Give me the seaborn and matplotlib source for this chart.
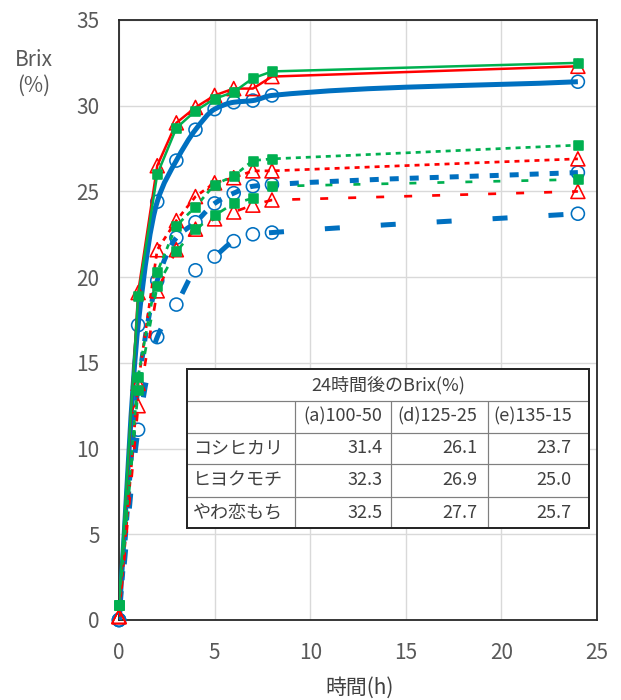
import numpy as np
import pandas as pd
import matplotlib
matplotlib.use("Agg")
import matplotlib.pyplot as plt
from matplotlib.path import Path
from matplotlib.patches import PathPatch, Rectangle
import seaborn as sns

# Sampling times (h)
hours = [0, 1, 2, 3, 4, 5, 6, 7, 8, 24]

# Brix (%) per variety and soaking condition
koshihikari_a = [0.0, 17.2, 24.4, 26.8, 28.6, 29.8, 30.2, 30.3, 30.6, 31.4]
koshihikari_d = [0.0, 13.6, 19.8, 22.3, 23.2, 24.3, 24.9, 25.3, 25.4, 26.1]
koshihikari_e = [0.0, 11.1, 16.5, 18.4, 20.4, 21.2, 22.1, 22.5, 22.6, 23.7]
hiyokumochi_a = [0.2, 19.1, 26.5, 29.0, 29.9, 30.6, 31.0, 31.0, 31.7, 32.3]
hiyokumochi_d = [0.2, 13.8, 21.6, 23.3, 24.7, 25.5, 25.8, 26.2, 26.2, 26.9]
hiyokumochi_e = [0.2, 12.5, 19.2, 21.6, 22.8, 23.4, 23.8, 24.2, 24.5, 25.0]
yawakoi_a = [0.9, 18.9, 26.0, 28.7, 29.7, 30.4, 30.8, 31.6, 32.0, 32.5]
yawakoi_d = [0.9, 14.2, 20.3, 23.0, 24.1, 25.4, 25.9, 26.8, 26.9, 27.7]
yawakoi_e = [0.9, 13.4, 19.5, 21.5, 22.8, 23.6, 24.3, 24.6, 25.3, 25.7]

varieties = ["コシヒカリ", "ヒヨクモチ", "やわ恋もち"]
conditions = ["(a)100-50", "(d)125-25", "(e)135-15"]
table_title = "24時間後のBrix(%)"
x_ticks = [0, 5, 10, 15, 20, 25]
y_ticks = [0, 5, 10, 15, 20, 25, 30, 35]
x_label = "時間(h)"
y_label = "Brix\n(%)"

series = {
    ("コシヒカリ", "(a)100-50"): koshihikari_a,
    ("コシヒカリ", "(d)125-25"): koshihikari_d,
    ("コシヒカリ", "(e)135-15"): koshihikari_e,
    ("ヒヨクモチ", "(a)100-50"): hiyokumochi_a,
    ("ヒヨクモチ", "(d)125-25"): hiyokumochi_d,
    ("ヒヨクモチ", "(e)135-15"): hiyokumochi_e,
    ("やわ恋もち", "(a)100-50"): yawakoi_a,
    ("やわ恋もち", "(d)125-25"): yawakoi_d,
    ("やわ恋もち", "(e)135-15"): yawakoi_e,
}

df = pd.DataFrame(
    [(t, v, var, cond) for (var, cond), vals in series.items() for t, v in zip(hours, vals)],
    columns=["time", "brix", "variety", "condition"],
)

# ---- styling ----
DPI = 100
PT = 72 / DPI          # points per pixel
BLUE, RED, GREEN = "#0070C0", "#FF0000", "#00B050"

variety_style = {
    "コシヒカリ": dict(color=BLUE, marker="o", size=13, filled=False, smooth=True, z=3),
    "ヒヨクモチ": dict(color=RED, marker="^", size=14, filled=False, smooth=False, z=4),
    "やわ恋もち": dict(color=GREEN, marker="s", size=9, filled=True, smooth=False, z=5),
}
# (line width px, dash pattern px)
line_style = {
    ("コシヒカリ", "(a)100-50"): (5.0, None),
    ("コシヒカリ", "(d)125-25"): (5.0, (9, 11)),
    ("コシヒカリ", "(e)135-15"): (5.0, (15, 41)),
    ("ヒヨクモチ", "(a)100-50"): (2.5, None),
    ("ヒヨクモチ", "(d)125-25"): (2.7, (5, 5)),
    ("ヒヨクモチ", "(e)135-15"): (2.7, (8, 20)),
    ("やわ恋もち", "(a)100-50"): (2.5, None),
    ("やわ恋もち", "(d)125-25"): (2.7, (5, 5)),
    ("やわ恋もち", "(e)135-15"): (2.7, (7, 21)),
}

sns.set_theme(style="white")
plt.rcParams["font.family"] = ["Noto Sans CJK JP", "DejaVu Sans"]
plt.rcParams["lines.scale_dashes"] = False
plt.rcParams["lines.solid_capstyle"] = "butt"
plt.rcParams["lines.dash_capstyle"] = "butt"


def linestyle_of(dash):
    if dash is None:
        return "-"
    return (0, (dash[0] * PT, dash[1] * PT))


def smooth_path(x, y):
    """Monotone cubic Bezier path through the points (smoothed line)."""
    x = np.asarray(x, float)
    y = np.asarray(y, float)
    h = np.diff(x)
    d = np.diff(y) / h
    m = np.empty_like(x)
    m[0], m[-1] = d[0], d[-1]
    for i in range(1, len(x) - 1):
        if d[i - 1] * d[i] <= 0:
            m[i] = 0.0
        else:
            w1 = 2 * h[i] + h[i - 1]
            w2 = h[i] + 2 * h[i - 1]
            m[i] = (w1 + w2) / (w1 / d[i - 1] + w2 / d[i])
    verts = [(x[0], y[0])]
    codes = [Path.MOVETO]
    for i in range(len(x) - 1):
        verts += [(x[i] + h[i] / 3, y[i] + m[i] * h[i] / 3),
                  (x[i + 1] - h[i] / 3, y[i + 1] - m[i + 1] * h[i] / 3),
                  (x[i + 1], y[i + 1])]
        codes += [Path.CURVE4] * 3
    return Path(verts, codes)


fig = plt.figure(figsize=(621 / DPI, 700 / DPI), dpi=DPI)
ax = fig.add_axes([119 / 621, 80 / 700, 478 / 621, 600 / 700])

for var in varieties:
    vs = variety_style[var]
    for cond in conditions:
        sub = df[(df["variety"] == var) & (df["condition"] == cond)]
        lw, dash = line_style[(var, cond)]
        if vs["smooth"]:
            patch = PathPatch(smooth_path(sub["time"], sub["brix"]), facecolor="none",
                              edgecolor=vs["color"], linewidth=lw * PT,
                              linestyle=linestyle_of(dash), capstyle="butt",
                              zorder=vs["z"])
            ax.add_patch(patch)
        else:
            sns.lineplot(data=sub, x="time", y="brix", ax=ax, color=vs["color"],
                         linewidth=lw * PT, linestyle=linestyle_of(dash),
                         estimator=None, legend=False, zorder=vs["z"])
        sns.scatterplot(data=sub, x="time", y="brix", ax=ax, marker=vs["marker"],
                        s=(vs["size"] * PT) ** 2, color=vs["color"],
                        facecolor=vs["color"] if vs["filled"] else "none",
                        edgecolor=vs["color"], linewidth=1.6 * PT,
                        legend=False, zorder=vs["z"] + 0.5, clip_on=False)

# ---- axes ----
ax.set_xlim(0, 25)
ax.set_ylim(0, 35)
ax.set_xticks(x_ticks)
ax.set_yticks(y_ticks)
ax.grid(True, color="#D9D9D9", linewidth=1.4 * PT)
ax.set_axisbelow(True)
for sp in ax.spines.values():
    sp.set_color("#262626")
    sp.set_linewidth(1.8 * PT)
ax.tick_params(length=0, labelsize=15, colors="#595959")
ax.tick_params(axis="x", pad=16)
ax.tick_params(axis="y", pad=14)
ax.set_xlabel("")
ax.set_ylabel("")

fig.text(360 / 621, 1 - 688 / 700, x_label, ha="center", va="center",
         fontsize=15, color="#404040")
fig.text(34 / 621, 1 - 73 / 700, y_label, ha="center", va="center",
         fontsize=15, color="#595959", linespacing=1.25)

# ---- summary table of 24 h values ----
def fx(px):
    return (px - 119) / 478


def fy(py):
    return (620 - py) / 600


col_edges = [187.3, 295.0, 391.0, 488.3, 589.3]
row_edges = [369.3, 400.7, 432.7, 464.0, 496.7, 528.3]
right_text = [382.5, 477.7, 571.7]
TXT = "#404040"
TFS = 13

x0, x1 = fx(col_edges[0]), fx(col_edges[-1])
y0, y1 = fy(row_edges[-1]), fy(row_edges[0])
ax.add_patch(Rectangle((x0, y0), x1 - x0, y1 - y0, transform=ax.transAxes,
                       facecolor="white", edgecolor="none", zorder=10))
for r in row_edges[1:-1]:
    ax.plot([x0, x1], [fy(r), fy(r)], transform=ax.transAxes, color="#7F7F7F",
            lw=1.2 * PT, zorder=11, clip_on=False)
for c in col_edges[1:-1]:
    ax.plot([fx(c), fx(c)], [fy(row_edges[1]), y0], transform=ax.transAxes,
            color="#7F7F7F", lw=1.2 * PT, zorder=11, clip_on=False)
ax.add_patch(Rectangle((x0, y0), x1 - x0, y1 - y0, transform=ax.transAxes,
                       facecolor="none", edgecolor="#262626", lw=2.0 * PT,
                       zorder=12, clip_on=False))

def row_mid(i):
    return fy((row_edges[i] + row_edges[i + 1]) / 2)

ax.text((x0 + x1) / 2, row_mid(0), table_title, transform=ax.transAxes,
        ha="center", va="center", fontsize=TFS, color=TXT, zorder=13)
for j, cond in enumerate(conditions):
    ax.text(fx(right_text[j]), row_mid(1), cond, transform=ax.transAxes,
            ha="right", va="center", fontsize=TFS, color=TXT, zorder=13)
for i, var in enumerate(varieties):
    ax.text(fx(193), row_mid(2 + i), var, transform=ax.transAxes,
            ha="left", va="center", fontsize=TFS, color=TXT, zorder=13)
    for j, cond in enumerate(conditions):
        ax.text(fx(right_text[j]), row_mid(2 + i), f"{series[(var, cond)][-1]:.1f}",
                transform=ax.transAxes, ha="right", va="center", fontsize=TFS,
                color=TXT, zorder=13)

fig.savefig("out.png", dpi=DPI)
